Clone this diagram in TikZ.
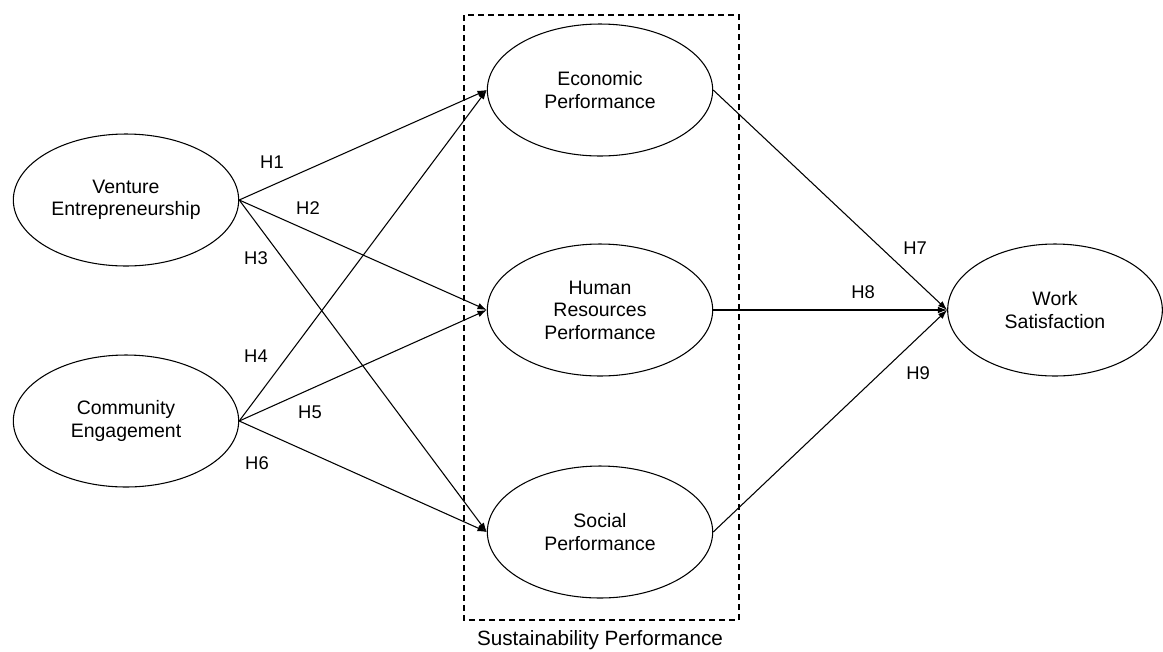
\documentclass[tikz,border=0pt]{standalone}
\usepackage{fontspec}
\setmainfont{Liberation Sans}
\usetikzlibrary{arrows.meta,shapes.geometric}

\tikzset{
  construct/.style={ellipse,draw=black,line width=0.8pt,minimum width=169pt,
    minimum height=99pt,inner sep=0pt,align=center,
    font=\fontsize{14.6}{16.8}\selectfont},
  hyp/.style={line width=0.8pt,-{Latex[length=7pt,width=5pt]}},
  hlabel/.style={font=\fontsize{13.8}{16}\selectfont}
}

\begin{document}
\begin{tikzpicture}[x=0.75pt,y=-0.75pt]
    \useasboundingbox (0,0) rectangle (1163,651);
    % constructs
    \node[construct] (venture) at (126,200) {Venture\\Entrepreneurship};
    \node[construct] (community) at (126,421) {Community\\Engagement};
    \node[construct] (econ) at (600,90) {Economic\\Performance};
    \node[construct] (hr) at (600,310) {Human\\Resources\\Performance};
    \node[construct] (social) at (600,532) {Social\\Performance};
    \node[construct,minimum width=161pt] (work) at (1055,310) {Work\\Satisfaction};
    % sustainability box
    \draw[dash pattern=on 4.5pt off 3pt,line width=0.8pt] (464,15) rectangle (739,620);
    \node[font=\fontsize{15.5}{18}\selectfont] (sustlabel) at (600,640) {Sustainability Performance};
    % hypotheses
    \foreach \src in {venture,community}
      \foreach \dst in {econ,hr,social}
        \draw[hyp] (\src.east) -- (\dst.west);
    \foreach \src in {econ,hr,social}
      \draw[hyp] (\src.east) -- (work.west);
    \node[hlabel] (h1) at (272,162) {H1};
    \node[hlabel] (h2) at (308,208) {H2};
    \node[hlabel] (h3) at (256,258) {H3};
    \node[hlabel] (h4) at (256,356) {H4};
    \node[hlabel] (h5) at (310,412) {H5};
    \node[hlabel] (h6) at (257,463) {H6};
    \node[hlabel] (h7) at (915,248) {H7};
    \node[hlabel] (h8) at (863,292) {H8};
    \node[hlabel] (h9) at (918,373) {H9};
\end{tikzpicture}
\end{document}
